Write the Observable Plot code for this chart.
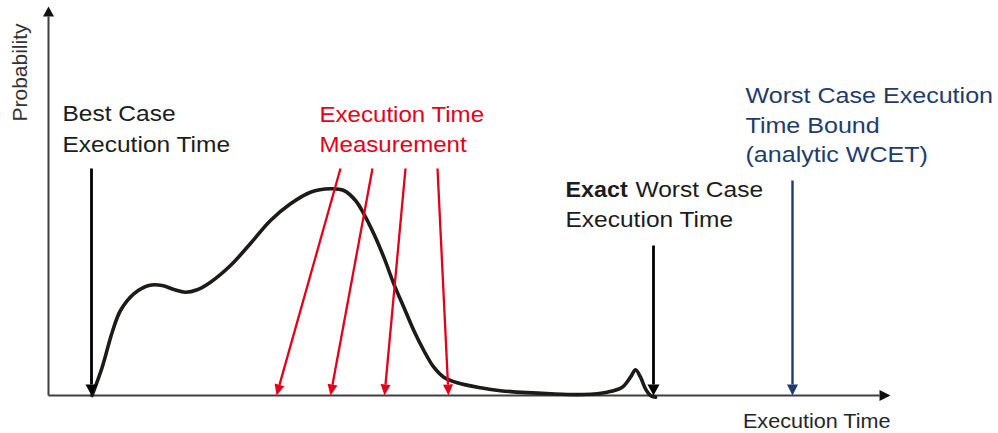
<!DOCTYPE html>
<html>
<head>
<meta charset="utf-8">
<script src="https://cdn.jsdelivr.net/npm/d3@7"></script>
<script src="https://cdn.jsdelivr.net/npm/@observablehq/plot@0.6"></script>
<style>
  html, body { margin: 0; padding: 0; background: #fff; }
  #chart svg { display: block; }
</style>
</head>
<body>
<div id="chart"></div>
<script>
// ---- data (arbitrary time / probability units) ----
const curveTime = [43.5, 53.7, 63.7, 72, 85.3, 100.3, 113.7, 125.3, 137, 148.7, 162, 182, 202, 222, 242, 262, 282, 295.3, 307, 315.3, 325.3, 335.3, 345.3, 355.3, 365.3, 375.3, 385.3, 395.3, 408.7, 432, 452, 502, 535, 558.7, 573.7, 582, 587, 592, 597, 602, 607];
const curveProb = [0, 28.3, 63.3, 85, 101.7, 110, 110, 106, 103.3, 105.7, 113.3, 130, 152, 175, 191.7, 203.3, 206.7, 205, 195, 181.7, 161.7, 138.3, 111.7, 88.3, 65, 45, 28.3, 18.3, 12.7, 7.7, 4.8, 1.7, 1, 3.3, 8.3, 18.3, 25.7, 18.3, 6.7, 0, -1.7];

const bcet = 43;          // best case execution time
const exactWcet = 605;    // exact worst case execution time
const wcetBound = 744;    // analytic WCET bound
const bcetArrowFrom = 227;
const exactArrowFrom = 150;
const boundArrowFrom = 215;

const measFromTime = [292, 324, 357, 389];
const measFromProb = [227, 227, 227, 227];
const measAtTime = [228, 282, 336, 400];

const axisTimeEnd = 842;
const axisProbEnd = 389;

const textBest = "Best Case\nExecution Time";
const textMeas = "Execution Time\nMeasurement";
const textExactBold = "Exact";
const textExactRest = "Worst Case";
const textExactLine2 = "Execution Time";
const textBound = "Worst Case Execution\nTime Bound\n(analytic WCET)";
const textXLabel = "Execution Time";
const textYLabel = "Probability";

// ---- styles ----
const FONT = "Liberation Sans, Arial, Helvetica, sans-serif";
const BLACK = "#1c1c1c";
const CURVE = "#1e1a17";
const AXIS = "#3f3f3f";
const RED = "#e2001a";
const BLUE = "#1f3d68";

// arrow geometry helper (data units map 1:1 to pixels)
function arrow(id, fx, fy, tx, ty, w, l) {
  const dx = tx - fx, dy = ty - fy, L = Math.hypot(dx, dy);
  const ux = dx / L, uy = dy / L;
  const bx = tx - l * ux, by = ty - l * uy;
  const nx = -uy, ny = ux;
  return {
    link: {x1: fx, y1: fy, x2: bx, y2: by},
    head: [
      {id, x: tx, y: ty},
      {id, x: bx + nx * w / 2, y: by + ny * w / 2},
      {id, x: bx - nx * w / 2, y: by - ny * w / 2}
    ]
  };
}

const axisArrows = [
  arrow("ax", 0, 0, axisTimeEnd, 0, 11, 11),
  arrow("ay", 0, 0, 0, axisProbEnd, 11, 10)
];
const blackArrows = [
  arrow("b1", bcet, bcetArrowFrom, bcet, 0, 12, 11),
  arrow("b2", exactWcet, exactArrowFrom, exactWcet, 0, 12, 11)
];
const blueArrows = [arrow("u1", wcetBound, boundArrowFrom, wcetBound, 0, 11, 11)];
const redArrows = measFromTime.map((t, i) => arrow("r" + i, t, measFromProb[i], measAtTime[i], 0, 10, 11));

const heads = arr => arr.flatMap(a => a.head);
const links = arr => arr.map(a => a.link);

const plot = Plot.plot({
  width: 998,
  height: 433,
  marginLeft: 48,
  marginRight: 108,
  marginTop: 6,
  marginBottom: 38,
  x: {domain: [0, axisTimeEnd], axis: null},
  y: {domain: [0, axisProbEnd], axis: null},
  style: {fontFamily: FONT, background: "#fff"},
  marks: [
    // axes
    Plot.link(links(axisArrows), {x1: "x1", y1: "y1", x2: "x2", y2: "y2", stroke: AXIS, strokeWidth: 2}),
    Plot.line(heads(axisArrows), {x: "x", y: "y", z: "id", fill: "#111", stroke: "none", curve: "linear-closed"}),
    // distribution curve
    Plot.line(curveTime.map((t, i) => ({t, p: curveProb[i]})), {x: "t", y: "p", stroke: CURVE, strokeWidth: 3.6, curve: "catmull-rom", strokeLinejoin: "round", strokeLinecap: "round"}),
    // arrows
    Plot.link(links(blackArrows), {x1: "x1", y1: "y1", x2: "x2", y2: "y2", stroke: "#000", strokeWidth: 2.8}),
    Plot.line(heads(blackArrows), {x: "x", y: "y", z: "id", fill: "#000", stroke: "none", curve: "linear-closed"}),
    Plot.link(links(blueArrows), {x1: "x1", y1: "y1", x2: "x2", y2: "y2", stroke: BLUE, strokeWidth: 2.4}),
    Plot.line(heads(blueArrows), {x: "x", y: "y", z: "id", fill: BLUE, stroke: "none", curve: "linear-closed"}),
    Plot.link(links(redArrows), {x1: "x1", y1: "y1", x2: "x2", y2: "y2", stroke: RED, strokeWidth: 2.3}),
    Plot.line(heads(redArrows), {x: "x", y: "y", z: "id", fill: RED, stroke: "none", curve: "linear-closed"}),
    // labels
    Plot.text([textBest], {x: [bcet], y: [295.8], dx: -29, text: d => d, textAnchor: "start", lineAnchor: "top", lineHeight: 1.395, fontSize: 22, fill: BLACK, ariaDescription: "sBlack"}),
    Plot.text([textMeas], {x: [measFromTime[0]], y: [295.5], dx: -21, text: d => d, textAnchor: "start", lineAnchor: "top", lineHeight: 1.395, fontSize: 22, fill: RED, ariaDescription: "sRed"}),
    Plot.text([textExactBold], {x: [exactWcet], y: [214.6], dx: -88, text: d => d, textAnchor: "start", lineAnchor: "top", fontSize: 22, fontWeight: "bold", fill: BLACK, ariaDescription: "sBold"}),
    Plot.text([textExactRest], {x: [exactWcet], y: [214.6], dx: -18, text: d => d, textAnchor: "start", lineAnchor: "top", fontSize: 22, fill: BLACK, ariaDescription: "sBlack"}),
    Plot.text([textExactLine2], {x: [exactWcet], y: [184.1], dx: -88, text: d => d, textAnchor: "start", lineAnchor: "top", fontSize: 22, fill: BLACK, ariaDescription: "sBlack"}),
    Plot.text([textBound], {x: [wcetBound], y: [313.4], dx: -47, text: d => d, textAnchor: "start", lineAnchor: "top", lineHeight: 1.34, fontSize: 22, fill: BLUE, ariaDescription: "sBlue"}),
    Plot.text([textXLabel], {x: [axisTimeEnd], y: [-17.8], text: d => d, textAnchor: "end", lineAnchor: "top", fontSize: 20, fill: "#262626", ariaDescription: "sAxis"}),
    Plot.text([textYLabel], {x: [-28], y: [323], text: d => d, textAnchor: "middle", lineAnchor: "middle", rotate: -90, fontSize: 21, fill: "#333"})
  ]
});

function stretch(svg, desc, s) {
  svg.querySelectorAll(`g[aria-description="${desc}"] text`).forEach(el => {
    const tr = el.getAttribute("transform");
    if (tr) el.setAttribute("transform", tr + ` scale(${s},1)`);
    else {
      const x = +el.getAttribute("x") || 0, y = +el.getAttribute("y") || 0;
      el.removeAttribute("x"); el.removeAttribute("y");
      el.setAttribute("transform", `translate(${x},${y}) scale(${s},1)`);
    }
  });
}
stretch(plot, "sBlack", 1.115);
stretch(plot, "sRed", 1.095);
stretch(plot, "sBold", 1.06);
stretch(plot, "sBlue", 1.14);
stretch(plot, "sAxis", 1.08);

document.getElementById("chart").appendChild(plot);
</script>
</body>
</html>
